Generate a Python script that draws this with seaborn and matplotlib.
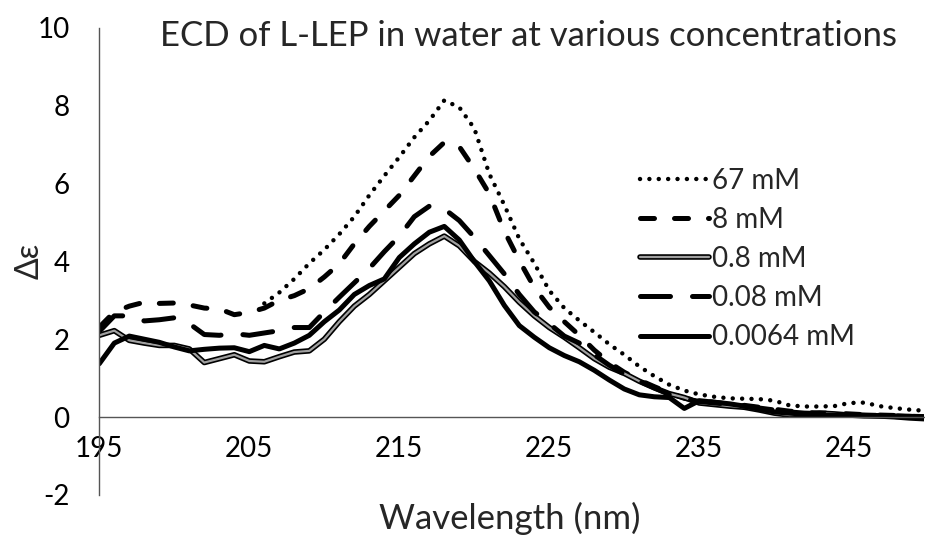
import numpy as np
import pandas as pd
import matplotlib
matplotlib.use("Agg")
import matplotlib.pyplot as plt
import matplotlib.patheffects as pe
import seaborn as sns

# ---------------- data ----------------
wavelength = list(range(195, 251))

labels = ["67 mM", "8 mM", "0.8 mM", "0.08 mM", "0.0064 mM"]

# 67 mM spectrum is only recorded from 206 nm on (None = no data)
mM_67 = [None, None, None, None, None, None, None, None, None, None,
         None, 2.92, 3.2, 3.55, 3.95, 4.3, 4.7, 5.15, 5.7, 6.2,
         6.68, 7.19, 7.62, 8.14, 7.96, 7.42, 6.25, 5.45, 4.58, 3.95,
         3.25, 2.8, 2.48, 2.18, 1.87, 1.6, 1.3, 1.05, 0.83, 0.68,
         0.58, 0.52, 0.48, 0.47, 0.46, 0.42, 0.3, 0.27, 0.27, 0.28,
         0.36, 0.37, 0.28, 0.23, 0.19, 0.16]

mM_8 = [2.31, 2.7, 2.85, 2.95, 2.92, 2.93, 2.88, 2.8, 2.78, 2.63,
        2.69, 2.8, 3.0, 3.12, 3.3, 3.6, 3.94, 4.45, 4.9, 5.3,
        5.7, 6.2, 6.7, 7.06, 6.95, 6.38, 5.74, 4.78, 4.02, 3.33,
        2.82, 2.45, 2.1, 1.72, 1.4, 1.15, 0.95, 0.78, 0.62, 0.48,
        0.42, 0.38, 0.33, 0.3, 0.25, 0.2, 0.15, 0.12, 0.1, 0.1,
        0.08, 0.06, 0.05, 0.04, 0.02, 0.01]

mM_0_8 = [2.1, 2.22, 1.97, 1.9, 1.84, 1.84, 1.75, 1.4, 1.5, 1.6,
          1.44, 1.42, 1.55, 1.67, 1.7, 2.0, 2.45, 2.85, 3.15, 3.5,
          3.85, 4.2, 4.45, 4.65, 4.4, 4.0, 3.7, 3.35, 2.95, 2.6,
          2.3, 2.05, 1.78, 1.5, 1.28, 1.12, 0.92, 0.75, 0.6, 0.5,
          0.36, 0.32, 0.28, 0.25, 0.18, 0.1, 0.05, 0.06, 0.1, 0.08,
          0.05, 0.03, 0.03, 0.02, 0.0, -0.02]

mM_0_08 = [2.2, 2.6, 2.6, 2.47, 2.5, 2.55, 2.4, 2.12, 2.1, 2.14,
           2.1, 2.16, 2.22, 2.3, 2.3, 2.7, 3.08, 3.45, 3.82, 4.25,
           4.65, 5.15, 5.42, 5.35, 5.05, 4.62, 4.15, 3.68, 3.15, 2.7,
           2.4, 2.08, 1.9, 1.6, 1.33, 1.1, 0.92, 0.75, 0.58, 0.47,
           0.4, 0.36, 0.33, 0.28, 0.23, 0.18, 0.13, 0.1, 0.09, 0.08,
           0.06, 0.05, 0.04, 0.03, 0.02, 0.0]

mM_0_0064 = [1.37, 1.9, 2.08, 2.0, 1.92, 1.8, 1.7, 1.74, 1.77, 1.78,
             1.68, 1.84, 1.75, 1.9, 2.1, 2.45, 2.75, 3.15, 3.38, 3.55,
             4.1, 4.45, 4.75, 4.9, 4.55, 4.0, 3.5, 2.87, 2.35, 2.05,
             1.78, 1.58, 1.42, 1.2, 0.95, 0.72, 0.57, 0.52, 0.5, 0.22,
             0.42, 0.38, 0.34, 0.28, 0.2, 0.13, 0.1, 0.07, 0.05, 0.04,
             0.04, 0.04, 0.02, 0.0, -0.03, -0.05]

x_ticks = [195, 205, 215, 225, 235, 245]
y_ticks = [-2, 0, 2, 4, 6, 8, 10]

title = "ECD of L-LEP in water at various concentrations"
x_label = "Wavelength (nm)"
y_label = "\u0394\u03b5"

series = [mM_67, mM_8, mM_0_8, mM_0_08, mM_0_0064]

# ---------------- style ----------------
sns.set_style("white")
plt.rcParams["font.family"] = ["Lato", "DejaVu Sans"]
plt.rcParams["axes.unicode_minus"] = False

W, H = 925, 535
fig = plt.figure(figsize=(W / 100, H / 100), dpi=100)
ax = fig.add_axes([99.3 / W, 1 - 494.8 / H, 825 / W, (494.8 - 28) / H])

FS_TICK = 20
FS_LAB = 25

styles = [
    dict(lw=3.2, dashes=(0.01, 2.1)),          # 67 mM dotted
    dict(lw=3.6, dashes=(2.8, 4.0)),           # 8 mM dashed
    dict(lw=1.6, dashes=None, double=True),    # 0.8 mM double line
    dict(lw=3.6, dashes=(6.0, 4.4)),           # 0.08 mM long dash
    dict(lw=3.6, dashes=None),                 # 0.0064 mM solid
]

for vals, lab, st in zip(series, labels, styles):
    df = pd.DataFrame({"wavelength": wavelength,
                       "value": pd.array(vals, dtype="Float64").astype(float)})
    sns.lineplot(data=df, x="wavelength", y="value", ax=ax, label=lab,
                 color="black", linewidth=st["lw"], legend=False)
    line = ax.lines[-1]
    line.set_solid_capstyle("round")
    line.set_solid_joinstyle("round")
    if st.get("dashes"):
        line.set_dashes(st["dashes"])
        line.set_dash_capstyle("round")
        line.set_dash_joinstyle("round")
    if st.get("double"):
        line.set_color("#a0a0a0")
        line.set_path_effects([pe.Stroke(linewidth=4.0, foreground="black"),
                               pe.Normal()])

ax.set_xlim(195, 250)
ax.set_ylim(-2, 10)
ax.set_xticks(x_ticks)
ax.set_yticks(y_ticks)
ax.set_xlabel("")
ax.set_ylabel("")

for s in ["top", "right"]:
    ax.spines[s].set_visible(False)
ax.spines["bottom"].set_position(("data", 0))
for s in ["left", "bottom"]:
    ax.spines[s].set_color("#555555")
    ax.spines[s].set_linewidth(1.0)

ax.tick_params(axis="y", direction="out", length=7.5, width=1.0,
               color="#555555", pad=14, labelsize=FS_TICK, labelcolor="black")
ax.tick_params(axis="x", direction="out", length=7, width=1.0,
               color="#555555", pad=7, labelsize=FS_TICK, labelcolor="black")
ax.set_facecolor("white")

fig.text(528 / W, 1 - 46 / H, title, ha="center", va="baseline",
         fontsize=FS_LAB)
fig.text(510 / W, 1 - 529 / H, x_label, ha="center", va="baseline",
         fontsize=FS_LAB)
fig.text(30 / W, 1 - 261 / H, y_label, ha="center", va="center",
         rotation=90, fontsize=FS_LAB - 2)

leg = ax.legend(loc="upper left", bbox_to_anchor=(640 / W, 1 - 168 / H),
                bbox_transform=fig.transFigure, frameon=False,
                fontsize=FS_TICK, handlelength=2.5, handletextpad=0.08,
                labelspacing=0.47, borderpad=0, borderaxespad=0)

fig.savefig("out.png", dpi=100, facecolor="white")
